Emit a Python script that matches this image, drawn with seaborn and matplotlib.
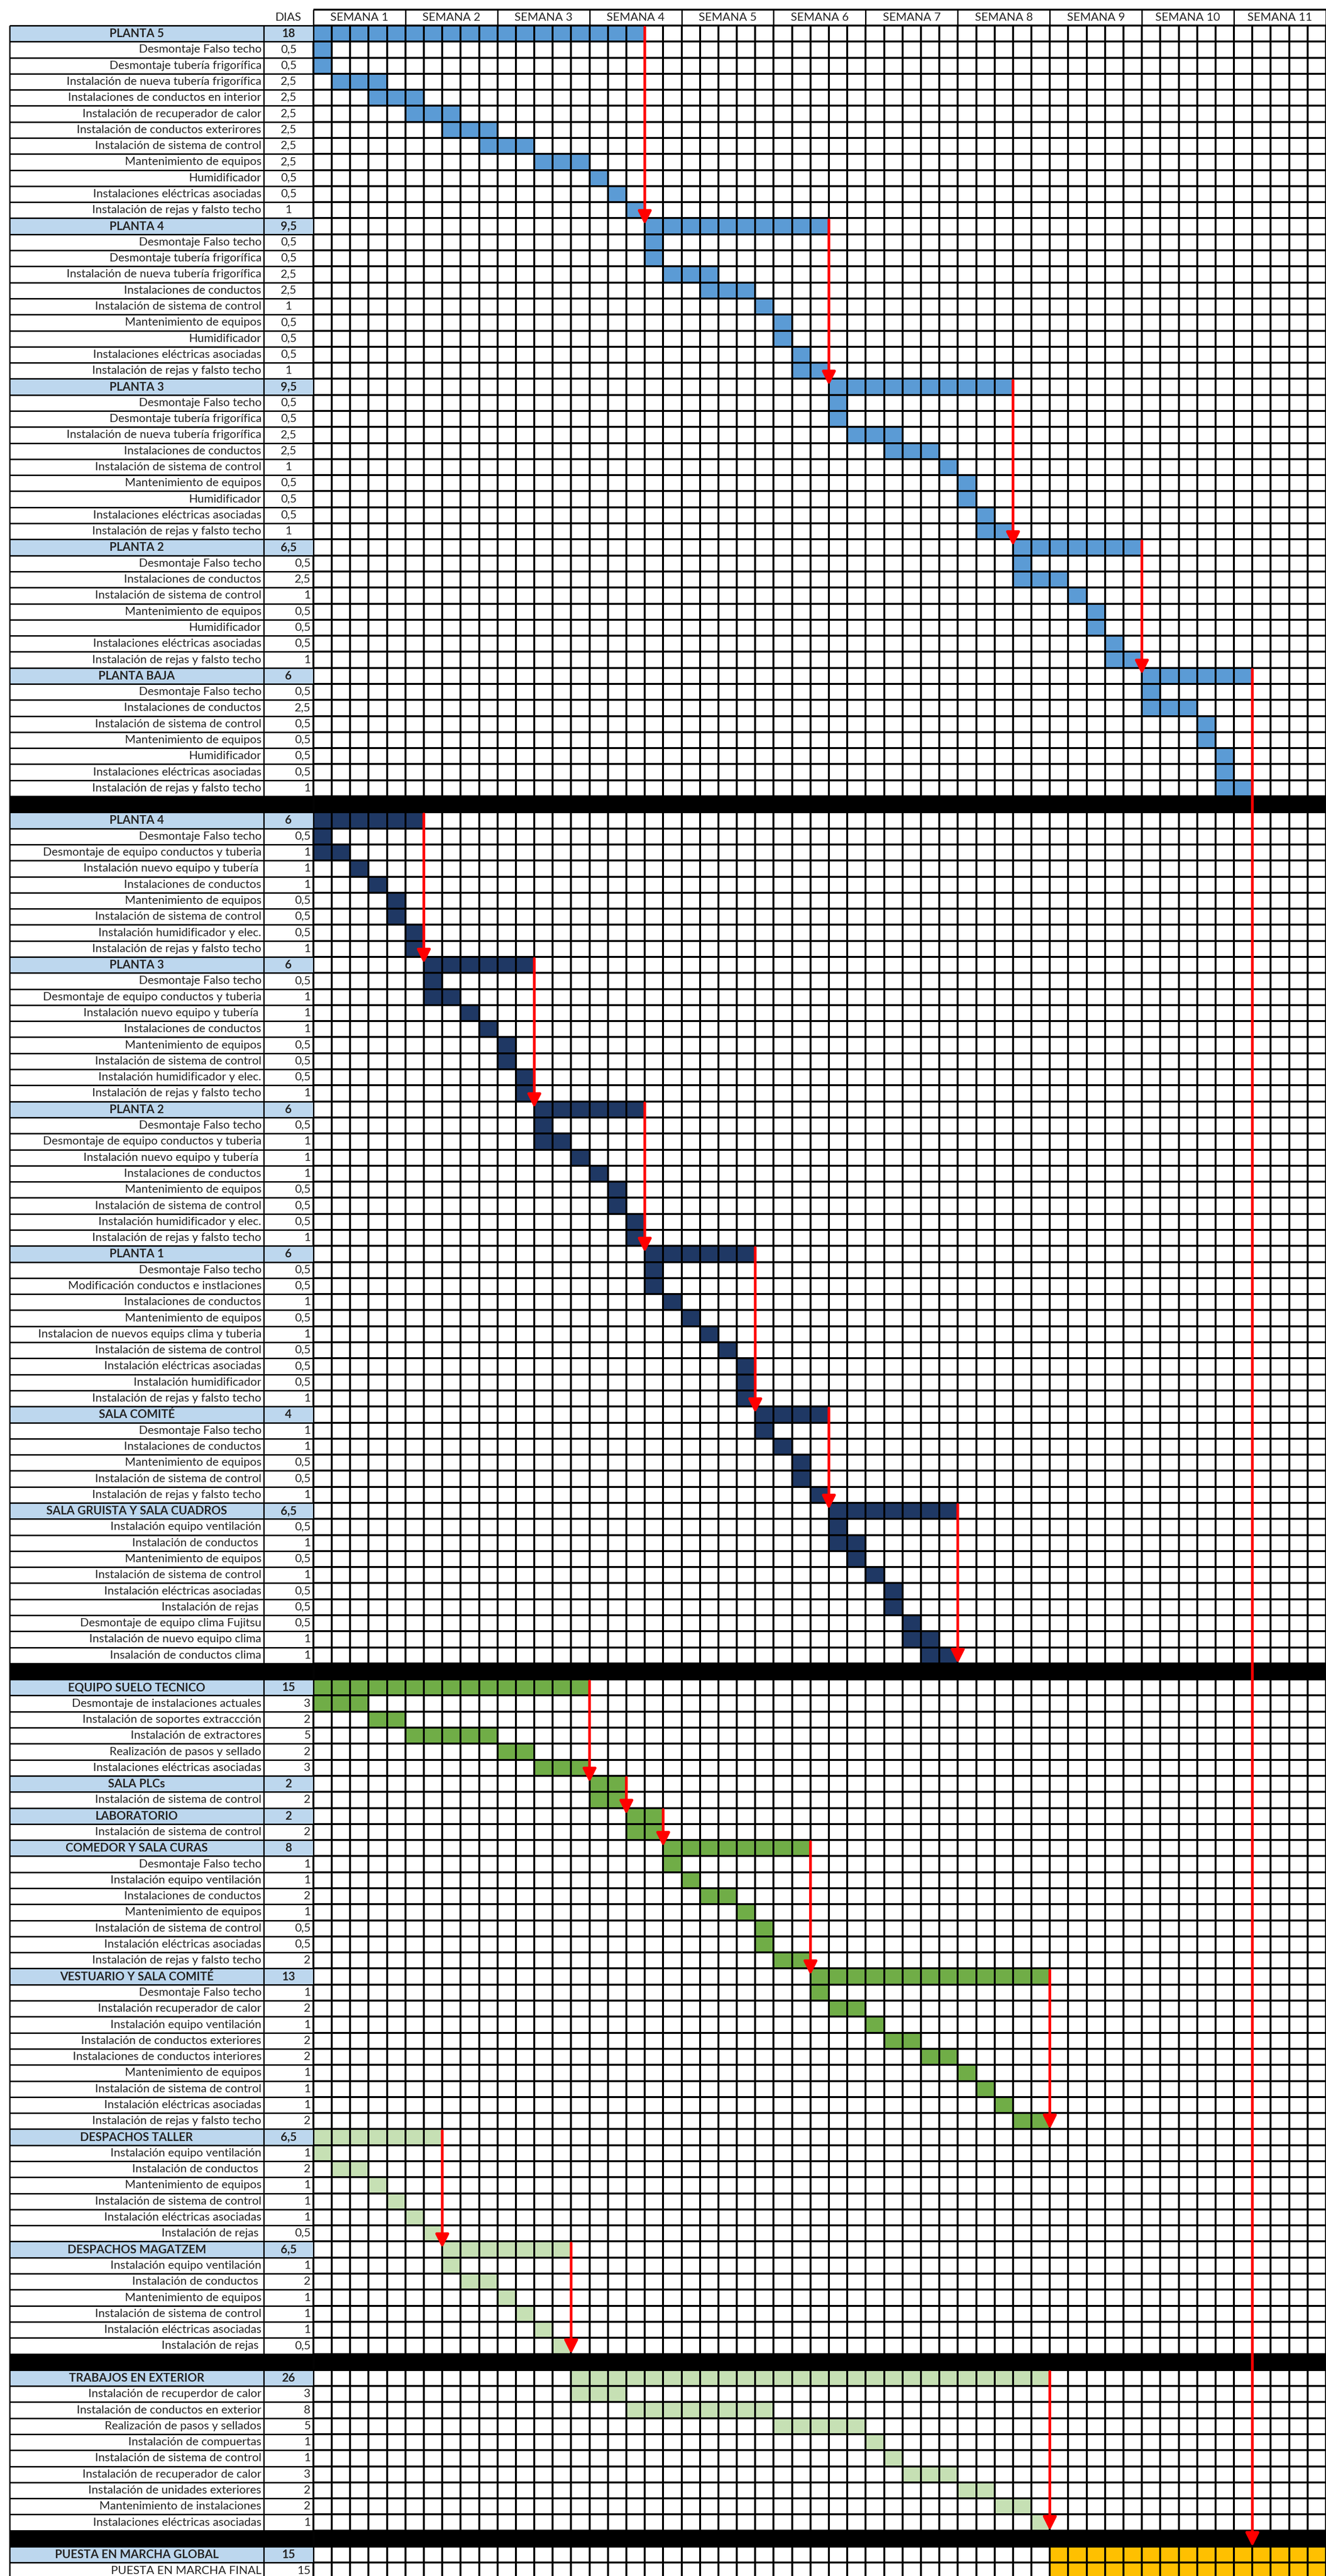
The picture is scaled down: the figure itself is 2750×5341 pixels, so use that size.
import numpy as np
import pandas as pd
import matplotlib
matplotlib.use("Agg")
import matplotlib.pyplot as plt
from matplotlib.colors import ListedColormap
import seaborn as sns

# -------------------------------
# data (start cell / number of cells as drawn in the sheet)
# -------------------------------
weeks = ["SEMANA 1", "SEMANA 2", "SEMANA 3", "SEMANA 4", "SEMANA 5", "SEMANA 6",
         "SEMANA 7", "SEMANA 8", "SEMANA 9", "SEMANA 10", "SEMANA 11"]
n_days = 55

s1_groups = ["PLANTA 5", "PLANTA 4", "PLANTA 3", "PLANTA 2", "PLANTA BAJA"]
s1_color = ["blue", "blue", "blue", "blue", "blue"]
s1_link = ["next", "next", "next", "next", "PUESTA EN MARCHA GLOBAL"]
s1_centered = [True, True, True, False, False]
s1_label = [
    "PLANTA 5", "Desmontaje Falso techo", "Desmontaje tubería frigorífica",
    "Instalación de nueva tubería frigorífica", "Instalaciones de conductos en interior",
    "Instalación de recuperador de calor", "Instalación de conductos exterirores",
    "Instalación de sistema de control", "Mantenimiento de equipos", "Humidificador",
    "Instalaciones eléctricas asociadas", "Instalación de rejas y falsto techo",
    "PLANTA 4", "Desmontaje Falso techo", "Desmontaje tubería frigorífica",
    "Instalación de nueva tubería frigorífica", "Instalaciones de conductos",
    "Instalación de sistema de control", "Mantenimiento de equipos", "Humidificador",
    "Instalaciones eléctricas asociadas", "Instalación de rejas y falsto techo",
    "PLANTA 3", "Desmontaje Falso techo", "Desmontaje tubería frigorífica",
    "Instalación de nueva tubería frigorífica", "Instalaciones de conductos",
    "Instalación de sistema de control", "Mantenimiento de equipos", "Humidificador",
    "Instalaciones eléctricas asociadas", "Instalación de rejas y falsto techo",
    "PLANTA 2", "Desmontaje Falso techo", "Instalaciones de conductos",
    "Instalación de sistema de control", "Mantenimiento de equipos", "Humidificador",
    "Instalaciones eléctricas asociadas", "Instalación de rejas y falsto techo",
    "PLANTA BAJA", "Desmontaje Falso techo", "Instalaciones de conductos",
    "Instalación de sistema de control", "Mantenimiento de equipos", "Humidificador",
    "Instalaciones eléctricas asociadas", "Instalación de rejas y falsto techo",
]
s1_dias = ["18", "0,5", "0,5", "2,5", "2,5", "2,5", "2,5", "2,5", "2,5", "0,5", "0,5", "1",
           "9,5", "0,5", "0,5", "2,5", "2,5", "1", "0,5", "0,5", "0,5", "1",
           "9,5", "0,5", "0,5", "2,5", "2,5", "1", "0,5", "0,5", "0,5", "1",
           "6,5", "0,5", "2,5", "1", "0,5", "0,5", "0,5", "1",
           "6", "0,5", "2,5", "0,5", "0,5", "0,5", "0,5", "1"]
s1_start = [0, 0, 0, 1, 3, 5, 7, 9, 12, 15, 16, 17,
            18, 18, 18, 19, 21, 24, 25, 25, 26, 26,
            28, 28, 28, 29, 31, 34, 35, 35, 36, 36,
            38, 38, 38, 41, 42, 42, 43, 43,
            45, 45, 45, 48, 48, 49, 49, 49]
s1_cells = [18, 1, 1, 3, 3, 3, 3, 3, 3, 1, 1, 1,
            10, 1, 1, 3, 3, 1, 1, 1, 1, 2,
            10, 1, 1, 3, 3, 1, 1, 1, 1, 2,
            7, 1, 3, 1, 1, 1, 1, 2,
            6, 1, 3, 1, 1, 1, 1, 2]

s2_groups = ["PLANTA 4", "PLANTA 3", "PLANTA 2", "PLANTA 1", "SALA COMITÉ",
             "SALA GRUISTA Y SALA CUADROS"]
s2_color = ["navy", "navy", "navy", "navy", "navy", "navy"]
s2_link = ["next", "next", "next", "next", "next", "end"]
s2_centered = [False, False, False, False, False, False]
s2_label = [
    "PLANTA 4", "Desmontaje Falso techo", "Desmontaje de equipo conductos y tuberia",
    "Instalación nuevo equipo y tubería ", "Instalaciones de conductos",
    "Mantenimiento de equipos", "Instalación de sistema de control",
    "Instalación humidificador y elec.", "Instalación de rejas y falsto techo",
    "PLANTA 3", "Desmontaje Falso techo", "Desmontaje de equipo conductos y tuberia",
    "Instalación nuevo equipo y tubería ", "Instalaciones de conductos",
    "Mantenimiento de equipos", "Instalación de sistema de control",
    "Instalación humidificador y elec.", "Instalación de rejas y falsto techo",
    "PLANTA 2", "Desmontaje Falso techo", "Desmontaje de equipo conductos y tuberia",
    "Instalación nuevo equipo y tubería ", "Instalaciones de conductos",
    "Mantenimiento de equipos", "Instalación de sistema de control",
    "Instalación humidificador y elec.", "Instalación de rejas y falsto techo",
    "PLANTA 1", "Desmontaje Falso techo", "Modificación conductos e instlaciones",
    "Instalaciones de conductos", "Mantenimiento de equipos",
    "Instalacion de nuevos equips clima y tuberia", "Instalación de sistema de control",
    "Instalación eléctricas asociadas", "Instalación humidificador",
    "Instalación de rejas y falsto techo",
    "SALA COMITÉ", "Desmontaje Falso techo", "Instalaciones de conductos",
    "Mantenimiento de equipos", "Instalación de sistema de control",
    "Instalación de rejas y falsto techo",
    "SALA GRUISTA Y SALA CUADROS", "Instalación equipo ventilación",
    "Instalación de conductos ", "Mantenimiento de equipos",
    "Instalación de sistema de control", "Instalación eléctricas asociadas",
    "Instalación de rejas ", "Desmontaje de equipo clima Fujitsu",
    "Instalación de nuevo equipo clima", "Insalación de conductos clima",
]
s2_dias = ["6", "0,5", "1", "1", "1", "0,5", "0,5", "0,5", "1",
           "6", "0,5", "1", "1", "1", "0,5", "0,5", "0,5", "1",
           "6", "0,5", "1", "1", "1", "0,5", "0,5", "0,5", "1",
           "6", "0,5", "0,5", "1", "0,5", "1", "0,5", "0,5", "0,5", "1",
           "4", "1", "1", "0,5", "0,5", "1",
           "6,5", "0,5", "1", "0,5", "1", "0,5", "0,5", "0,5", "1", "1"]
s2_start = [0, 0, 0, 2, 3, 4, 4, 5, 5,
            6, 6, 6, 8, 9, 10, 10, 11, 11,
            12, 12, 12, 14, 15, 16, 16, 17, 17,
            18, 18, 18, 19, 20, 21, 22, 23, 23, 23,
            24, 24, 25, 26, 26, 27,
            28, 28, 28, 29, 30, 31, 31, 32, 32, 33]
s2_cells = [6, 1, 2, 1, 1, 1, 1, 1, 1,
            6, 1, 2, 1, 1, 1, 1, 1, 1,
            6, 1, 2, 1, 1, 1, 1, 1, 1,
            6, 1, 1, 1, 1, 1, 1, 1, 1, 1,
            4, 1, 1, 1, 1, 1,
            7, 1, 2, 1, 1, 1, 1, 1, 2, 2]

s3_groups = ["EQUIPO SUELO TECNICO", "SALA PLCs", "LABORATORIO", "COMEDOR Y SALA CURAS",
             "VESTUARIO Y SALA COMITÉ", "DESPACHOS TALLER", "DESPACHOS MAGATZEM"]
s3_color = ["green", "green", "green", "green", "green", "light", "light"]
s3_link = ["next", "next", "next", "next", "end", "next", "end"]
s3_centered = [False, False, False, False, False, False, False]
s3_label = [
    "EQUIPO SUELO TECNICO", "Desmontaje de instalaciones actuales",
    "Instalación de soportes extraccción", "Instalación de extractores",
    "Realización de pasos y sellado", "Instalaciones eléctricas asociadas",
    "SALA PLCs", "Instalación de sistema de control",
    "LABORATORIO", "Instalación de sistema de control",
    "COMEDOR Y SALA CURAS", "Desmontaje Falso techo", "Instalación equipo ventilación",
    "Instalaciones de conductos", "Mantenimiento de equipos",
    "Instalación de sistema de control", "Instalación eléctricas asociadas",
    "Instalación de rejas y falsto techo",
    "VESTUARIO Y SALA COMITÉ", "Desmontaje Falso techo", "Instalación recuperador de calor",
    "Instalación equipo ventilación", "Instalación de conductos exteriores",
    "Instalaciones de conductos interiores", "Mantenimiento de equipos",
    "Instalación de sistema de control", "Instalación eléctricas asociadas",
    "Instalación de rejas y falsto techo",
    "DESPACHOS TALLER", "Instalación equipo ventilación", "Instalación de conductos ",
    "Mantenimiento de equipos", "Instalación de sistema de control",
    "Instalación eléctricas asociadas", "Instalación de rejas ",
    "DESPACHOS MAGATZEM", "Instalación equipo ventilación", "Instalación de conductos ",
    "Mantenimiento de equipos", "Instalación de sistema de control",
    "Instalación eléctricas asociadas", "Instalación de rejas ",
]
s3_dias = ["15", "3", "2", "5", "2", "3", "2", "2", "2", "2",
           "8", "1", "1", "2", "1", "0,5", "0,5", "2",
           "13", "1", "2", "1", "2", "2", "1", "1", "1", "2",
           "6,5", "1", "2", "1", "1", "1", "0,5",
           "6,5", "1", "2", "1", "1", "1", "0,5"]
s3_start = [0, 0, 3, 5, 10, 12, 15, 15, 17, 17,
            19, 19, 20, 21, 23, 24, 24, 25,
            27, 27, 28, 30, 31, 33, 35, 36, 37, 38,
            0, 0, 1, 3, 4, 5, 6,
            7, 7, 8, 10, 11, 12, 13]
s3_cells = [15, 3, 2, 5, 2, 3, 2, 2, 2, 2,
            8, 1, 1, 2, 1, 1, 1, 2,
            13, 1, 2, 1, 2, 2, 1, 1, 1, 2,
            7, 1, 2, 1, 1, 1, 1,
            7, 1, 2, 1, 1, 1, 1]

s4_groups = ["TRABAJOS EN EXTERIOR"]
s4_color = ["light"]
s4_link = ["end"]
s4_centered = [False]
s4_label = ["TRABAJOS EN EXTERIOR", "Instalación de recuperdor de calor",
            "Instalación de conductos en exterior", "Realización de pasos y sellados",
            "Instalación de compuertas", "Instalación de sistema de control",
            "Instalación de recuperador de calor", "Instalación de unidades exteriores",
            "Mantenimiento de instalaciones", "Instalaciones eléctricas asociadas"]
s4_dias = ["26", "3", "8", "5", "1", "1", "3", "2", "2", "1"]
s4_start = [14, 14, 17, 25, 30, 31, 32, 35, 37, 39]
s4_cells = [26, 3, 8, 5, 1, 1, 3, 2, 2, 1]

s5_groups = ["PUESTA EN MARCHA GLOBAL"]
s5_color = ["orange"]
s5_link = ["none"]
s5_centered = [False]
s5_label = ["PUESTA EN MARCHA GLOBAL", "PUESTA EN MARCHA FINAL"]
s5_dias = ["15", "15"]
s5_start = [40, 40]
s5_cells = [15, 15]

palette = {"none": "#FFFFFF", "blue": "#5B9BD5", "navy": "#1F3864", "green": "#70AD47",
           "light": "#C6E0B4", "orange": "#FFC000", "bar": "#000000"}
head_fill = "#BDD7EE"

# -------------------------------
# build table of rows
# -------------------------------
sections = [
    (s1_label, s1_dias, s1_start, s1_cells, s1_groups, s1_color, s1_link, s1_centered),
    (s2_label, s2_dias, s2_start, s2_cells, s2_groups, s2_color, s2_link, s2_centered),
    (s3_label, s3_dias, s3_start, s3_cells, s3_groups, s3_color, s3_link, s3_centered),
    (s4_label, s4_dias, s4_start, s4_cells, s4_groups, s4_color, s4_link, s4_centered),
    (s5_label, s5_dias, s5_start, s5_cells, s5_groups, s5_color, s5_link, s5_centered),
]
records = []
for k, (lab, dias, st, ce, groups, col, link, cen) in enumerate(sections):
    if k:
        records.append(dict(kind="bar", label="", dias="", start=0, cells=0,
                            color="bar", link="none", centered=False))
    g = -1
    for l, d, s, c in zip(lab, dias, st, ce):
        if g + 1 < len(groups) and l == groups[g + 1]:
            g += 1
            kind = "head"
        else:
            kind = "task"
        records.append(dict(kind=kind, label=l, dias=d, start=s, cells=c,
                            color=col[g], link=link[g], centered=cen[g]))
rows = pd.DataFrame(records)
n_rows = len(rows)

codes = list(palette.keys())
grid = np.zeros((n_rows, n_days))
for i, r in rows.iterrows():
    if r.kind == "bar":
        grid[i, :] = codes.index("bar")
    else:
        grid[i, r.start:r.start + r.cells] = codes.index(r.color)

# -------------------------------
# layout (x in day cells, y in rows)
# -------------------------------
x_left = -16.5      # outer border of the task column
x_sep = -2.7        # task | DIAS separator
fig_xlim = (-17.02, 55.0)
fig_ylim = (158.83, -1.59)

sns.set_theme(style="white")
plt.rcParams["font.family"] = ["Lato", "DejaVu Sans"]

fig = plt.figure(figsize=(27.5, 53.41), dpi=100)
ax = fig.add_axes([0, 0, 1, 1])

sns.heatmap(grid, ax=ax, cmap=ListedColormap(list(palette.values())),
            vmin=-0.5, vmax=len(codes) - 0.5, cbar=False,
            linewidths=1.7, linecolor="black", xticklabels=False, yticklabels=False)

heads = rows.index[rows.kind == "head"]
bars = rows.index[rows.kind == "bar"]
ax.barh(heads + 0.5, -x_left, left=x_left, height=1, color=head_fill, zorder=1)
ax.barh(bars + 0.5, -x_left, left=x_left, height=1, color="black", zorder=1)

# grid lines of the table part
ax.hlines(np.arange(0, n_rows + 1), x_left, n_days, color="black", lw=2.2, zorder=2)
ax.vlines([x_left, x_sep, 0], 0, n_rows, color="black", lw=2.0, zorder=2)
ax.hlines(-1, 0, n_days, color="black", lw=2.8, zorder=2)
ax.vlines(np.arange(0, n_days + 1, 5), -1, 0, color="black", lw=2.0, zorder=2)

# header
fs = 17.3
ax.text((x_sep + 0) / 2, -0.5, "DIAS", ha="center", va="center", fontsize=fs)
for w, name in enumerate(weeks):
    ax.text(w * 5 + 2.5, -0.5, name, ha="center", va="center", fontsize=fs)

# row texts
for i, r in rows.iterrows():
    if r.kind == "head":
        ax.text((x_left + x_sep) / 2, i + 0.5, r.label, ha="center", va="center",
                fontsize=fs, fontweight="bold")
        ax.text((x_sep + 0) / 2, i + 0.5, r.dias, ha="center", va="center",
                fontsize=fs, fontweight="bold")
    elif r.kind == "task":
        ax.text(x_sep - 0.12, i + 0.5, r.label, ha="right", va="center", fontsize=fs)
        if r.centered:
            ax.text((x_sep + 0) / 2, i + 0.5, r.dias, ha="center", va="center", fontsize=fs)
        else:
            ax.text(-0.15, i + 0.5, r.dias, ha="right", va="center", fontsize=fs)

# red arrows between consecutive blocks
head_list = list(heads)
for n, i in enumerate(head_list):
    r = rows.loc[i]
    if r.link == "none":
        continue
    x = r.start + r.cells
    nxt = head_list[n + 1] if n + 1 < len(head_list) else n_rows
    stop = min([b for b in list(bars) + [n_rows] if b > i])
    last = min(nxt, stop)
    if r.link == "next":
        y_end = nxt + 0.4
    elif r.link == "end":
        y_end = last
    else:
        y_end = rows.index[rows.label == r.link][0]
    ax.annotate("", xy=(x, y_end), xytext=(x, i + 0.1),
                arrowprops=dict(arrowstyle="-|>", color="#FF0000", lw=4.0,
                                mutation_scale=42, shrinkA=0, shrinkB=0),
                zorder=5)

ax.set_xlim(*fig_xlim)
ax.set_ylim(*fig_ylim)
ax.set_axis_off()

fig.savefig("out.png", dpi=100)
